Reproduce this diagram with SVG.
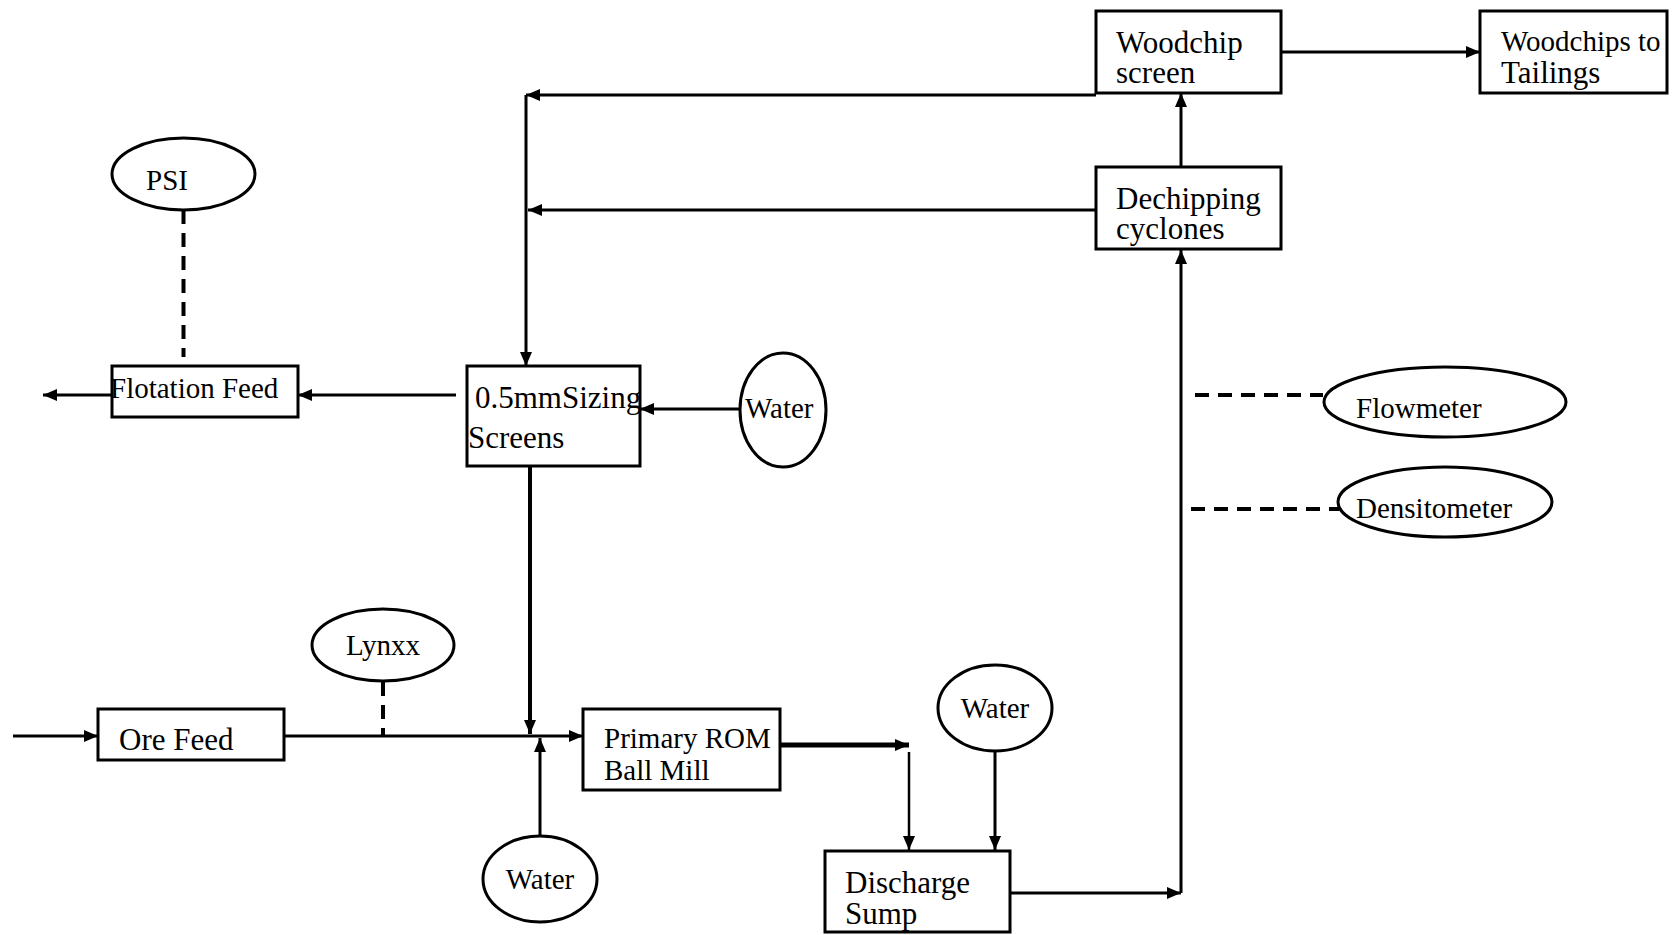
<svg xmlns="http://www.w3.org/2000/svg" width="1673" height="935" viewBox="0 0 1673 935">
<style>
.box{fill:#fff;stroke:#000;stroke-width:3}
.ell{fill:#fff;stroke:#000;stroke-width:3}
.t{font-family:"Liberation Serif","Times New Roman",serif;fill:#000}
.big{font-size:31px}
.sm{font-size:29px}
.ln{fill:none;stroke:#000;stroke-width:3}
.dash{fill:none;stroke:#000;stroke-width:4;stroke-dasharray:14 9}
</style>
<defs>
<marker id="ah" viewBox="0 0 14 12" refX="14" refY="6" markerWidth="14" markerHeight="12" orient="auto" markerUnits="userSpaceOnUse">
<path d="M0,0 L14,6 L0,12 Z" fill="#000"/>
</marker>
</defs>
<rect width="1673" height="935" fill="#fff"/>
<g id="connectors">
<path class="ln" d="M1281,52 H1480" marker-end="url(#ah)"/>
<path class="ln" d="M1181,167 V93" marker-end="url(#ah)"/>
<path class="ln" d="M1096,95 H526" marker-end="url(#ah)"/>
<path class="ln" d="M526,95 V366" marker-end="url(#ah)"/>
<path class="ln" d="M1096,210 H528" marker-end="url(#ah)"/>
<path class="ln" d="M1010,893 H1181" marker-end="url(#ah)"/>
<path class="ln" d="M1181,893 V250" marker-end="url(#ah)"/>
<path class="dash" d="M1195,395 H1323"/>
<path class="dash" d="M1191,509 H1339"/>
<path class="ln" d="M995,752 V850" marker-end="url(#ah)"/>
<path class="ln" style="stroke-width:5" d="M780,745 H909" marker-end="url(#ah)"/>
<path class="ln" style="stroke-width:2.5" d="M909,752 V850" marker-end="url(#ah)"/>
<path class="ln" d="M13,736 H98" marker-end="url(#ah)"/>
<path class="ln" d="M284,736 H583" marker-end="url(#ah)"/>
<path class="dash" d="M383,682 V736"/>
<path class="ln" style="stroke-width:4" d="M530,467 V734" marker-end="url(#ah)"/>
<path class="ln" d="M540,836 V738" marker-end="url(#ah)"/>
<path class="ln" d="M740,409 H640" marker-end="url(#ah)"/>
<path class="ln" d="M456,395 H298" marker-end="url(#ah)"/>
<path class="ln" d="M112,395 H43" marker-end="url(#ah)"/>
<path class="dash" d="M183.5,210 V357"/>
</g>
<g id="woodchip-screen">
<rect class="box" x="1096" y="11" width="185" height="82"/>
<text class="t big" x="1116" y="53">Woodchip</text>
<text class="t big" x="1116" y="83">screen</text>
</g>
<g id="woodchips-tailings">
<rect class="box" x="1480" y="11" width="187" height="82"/>
<text class="t sm" x="1501" y="51">Woodchips to</text>
<text class="t big" x="1501" y="83">Tailings</text>
</g>
<g id="dechipping-cyclones">
<rect class="box" x="1096" y="167" width="185" height="82"/>
<text class="t big" x="1116" y="209">Dechipping</text>
<text class="t big" x="1116" y="239">cyclones</text>
</g>
<g id="discharge-sump">
<rect class="box" x="825" y="851" width="185" height="81"/>
<text class="t big" x="845" y="893">Discharge</text>
<text class="t big" x="845" y="924">Sump</text>
</g>
<g id="flowmeter">
<ellipse class="ell" cx="1445" cy="402" rx="121" ry="35"/>
<text class="t sm" x="1356" y="418">Flowmeter</text>
</g>
<g id="densitometer">
<ellipse class="ell" cx="1445" cy="502" rx="107" ry="35"/>
<text class="t sm" x="1356" y="518">Densitometer</text>
</g>
<g id="water-sump">
<ellipse class="ell" cx="995" cy="708" rx="57" ry="43"/>
<text class="t sm" x="995" y="718" text-anchor="middle">Water</text>
</g>
<g id="primary-rom-ball-mill">
<rect class="box" x="583" y="709" width="197" height="81"/>
<text class="t sm" x="604" y="748">Primary ROM</text>
<text class="t sm" x="604" y="780">Ball Mill</text>
</g>
<g id="ore-feed">
<rect class="box" x="98" y="709" width="186" height="51"/>
<text class="t big" x="119" y="750">Ore Feed</text>
</g>
<g id="lynxx">
<ellipse class="ell" cx="383" cy="645" rx="71" ry="36"/>
<text class="t sm" x="383" y="655" text-anchor="middle">Lynxx</text>
</g>
<g id="water-mill">
<ellipse class="ell" cx="540" cy="879" rx="57" ry="43"/>
<text class="t sm" x="540" y="889" text-anchor="middle">Water</text>
</g>
<g id="sizing-screens">
<rect class="box" x="467" y="366" width="173" height="100"/>
<text class="t big" x="475" y="408">0.5mmSizing</text>
<text class="t big" x="468" y="448">Screens</text>
</g>
<g id="water-screens">
<ellipse class="ell" cx="783" cy="410" rx="43" ry="57"/>
<text class="t sm" x="745" y="418">Water</text>
</g>
<g id="flotation-feed">
<rect class="box" x="112" y="366" width="186" height="51"/>
<text class="t sm" x="110" y="398">Flotation Feed</text>
</g>
<g id="psi">
<ellipse class="ell" cx="183.5" cy="174" rx="71.5" ry="36"/>
<text class="t sm" x="146" y="190">PSI</text>
</g>
</svg>
